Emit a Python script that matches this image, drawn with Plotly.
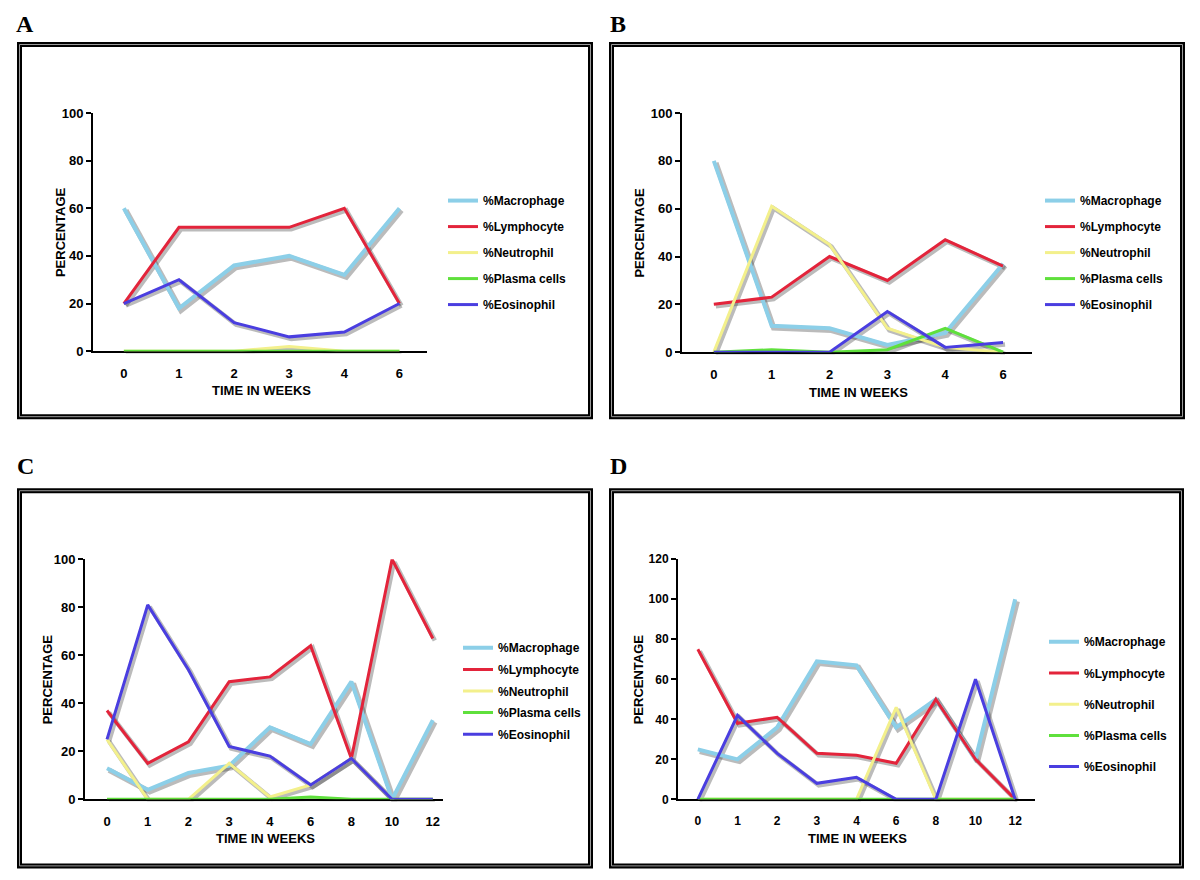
import plotly.graph_objects as go

# categories (time in weeks)
WEEKS_AB = ["0", "1", "2", "3", "4", "6"]
WEEKS_CD = ["0", "1", "2", "3", "4", "6", "8", "10", "12"]

SERIES = ["%Macrophage", "%Lymphocyte", "%Neutrophil", "%Plasma cells", "%Eosinophil"]
COLORS = ["#8ccfe8", "#e3243b", "#f3f08c", "#5fe03c", "#4a3ee0"]
WIDTHS = [4, 3, 3, 3, 3]

# panel A
A_MACRO = [60, 18, 36, 40, 32, 60]
A_LYMPH = [20, 52, 52, 52, 60, 20]
A_NEUT = [0, 0, 0, 2, 0, 0]
A_PLASMA = [0, 0, 0, 0, 0, 0]
A_EOS = [20, 30, 12, 6, 8, 20]

# panel B
B_MACRO = [80, 11, 10, 3, 8, 37]
B_LYMPH = [20, 23, 40, 30, 47, 36]
B_NEUT = [0, 61, 45, 10, 2, 0]
B_PLASMA = [0, 1, 0, 1, 10, 0]
B_EOS = [0, 0, 0, 17, 2, 4]

# panel C
C_MACRO = [13, 4, 11, 14, 30, 23, 49, 0, 33]
C_LYMPH = [37, 15, 24, 49, 51, 64, 17, 100, 67]
C_NEUT = [25, 0, 0, 15, 1, 6, 17, 0, 0]
C_PLASMA = [0, 0, 0, 0, 0, 1, 0, 0, 0]
C_EOS = [25, 81, 54, 22, 18, 6, 17, 0, 0]

# panel D
D_MACRO = [25, 20, 36, 69, 67, 36, 50, 20, 100]
D_LYMPH = [75, 38, 41, 23, 22, 18, 50, 20, 0]
D_NEUT = [0, 0, 0, 0, 0, 46, 0, 0, 0]
D_PLASMA = [0, 0, 0, 0, 0, 0, 0, 0, 0]
D_EOS = [0, 42, 23, 8, 11, 0, 0, 60, 0]

# page placement of the figure as measured from earlier renders
OFF_X = 8
OFF_Y, SCALE_Y = 15, 0.9825
W, H = 1200 - 2 * OFF_X, 880

# pixel boxes (target picture coords) of each plot area: (left, right, top, bottom)
PANELS = [
    dict(label="A", weeks=WEEKS_AB, data=[A_MACRO, A_LYMPH, A_NEUT, A_PLASMA, A_EOS],
         box=(93, 427, 113, 351), xr=[-0.56, 5.5], ymax=100, ytick=13,
         frame=(17, 593, 42, 419), lab=(25, 24),
         leg=(443, 186, 7), ytitle_x=60, xtitle_y=390),
    dict(label="B", weeks=WEEKS_AB, data=[B_MACRO, B_LYMPH, B_NEUT, B_PLASMA, B_EOS],
         box=(682, 1032, 113, 352), xr=[-0.55, 5.5], ymax=100, ytick=13,
         frame=(609, 1185, 42, 419), lab=(618, 24),
         leg=(1040, 186, 7), ytitle_x=640, xtitle_y=392),
    dict(label="C", weeks=WEEKS_CD, data=[C_MACRO, C_LYMPH, C_NEUT, C_PLASMA, C_EOS],
         box=(85, 443, 559, 799), xr=[-0.54, 8.25], ymax=100, ytick=13,
         frame=(17, 593, 488, 868), lab=(25, 466),
         leg=(458, 633, 2.6), ytitle_x=47, xtitle_y=838),
    dict(label="D", weeks=WEEKS_CD, data=[D_MACRO, D_LYMPH, D_NEUT, D_PLASMA, D_EOS],
         box=(678, 1035, 559, 799), xr=[-0.5, 8.5], ymax=120, ytick=12,
         frame=(609, 1184, 488, 868), lab=(618, 466),
         leg=(1044, 627, 12.2), ytitle_x=638, xtitle_y=838),
]

FONT = "Liberation Sans, Arial, sans-serif"

fig = go.Figure()
layout = dict(
    width=W, height=H, autosize=False,
    margin=dict(l=0, r=0, t=0, b=0),
    paper_bgcolor="white", plot_bgcolor="rgba(0,0,0,0)",
    font=dict(family=FONT, color="black"),
    showlegend=True,
)
shapes = []
annotations = []


def px_x(v):
    return (v - OFF_X) / W


def px_y(v):
    return 1 - ((v - OFF_Y) / SCALE_Y) / H


# shadow subplots use axes 1-4, real ones 5-8 so lines sit on top of shadows
for i, p in enumerate(PANELS):
    left, right, top, bottom = p["box"]
    sid = i + 1
    rid = i + 5
    sx = "xaxis" if sid == 1 else f"xaxis{sid}"
    sy = "yaxis" if sid == 1 else f"yaxis{sid}"
    layout[sx] = dict(domain=[px_x(left + 2), px_x(right + 2)], range=p["xr"], type="category",
                      visible=False, anchor=f"y{sid}" if sid > 1 else "y")
    layout[sy] = dict(domain=[px_y(bottom + 2), px_y(top + 2)], range=[0, p["ymax"]],
                      visible=False, anchor=f"x{sid}" if sid > 1 else "x")
    layout[f"xaxis{rid}"] = dict(
        domain=[px_x(left), px_x(right)], range=p["xr"], type="category",
        categoryorder="array", categoryarray=p["weeks"],
        anchor=f"y{rid}", showline=True, linecolor="black", linewidth=2,
        showgrid=False, zeroline=False, ticks="outside", ticklen=9,
        tickcolor="rgba(0,0,0,0)", layer="below traces",
        tickfont=dict(family=FONT, size=p["ytick"], weight="bold", color="black"),
    )
    layout[f"yaxis{rid}"] = dict(
        domain=[px_y(bottom), px_y(top)], range=[0, p["ymax"]], dtick=20,
        anchor=f"x{rid}", showline=True, linecolor="black", linewidth=2,
        showgrid=False, zeroline=False, ticks="outside", ticklen=5, tickwidth=2,
        tickcolor="black", layer="below traces",
        tickfont=dict(family=FONT, size=p["ytick"], weight="bold", color="black"),
    )
    legname = "legend" if i == 0 else f"legend{i + 1}"
    lx, ly, gap = p["leg"]
    layout[legname] = dict(
        x=px_x(lx), y=px_y(ly), xanchor="left", yanchor="top",
        bgcolor="rgba(0,0,0,0)", borderwidth=0, itemwidth=30,
        traceorder="grouped", tracegroupgap=gap,
        font=dict(family=FONT, size=12, weight="bold", color="black"),
    )

    for name, color, width, vals in zip(SERIES, COLORS, WIDTHS, p["data"]):
        fig.add_trace(go.Scatter(
            x=p["weeks"], y=vals, mode="lines",
            line=dict(color="rgba(60,60,60,0.35)", width=width + 1.5),
            xaxis="x" if sid == 1 else f"x{sid}", yaxis="y" if sid == 1 else f"y{sid}",
            showlegend=False, hoverinfo="skip", cliponaxis=False,
        ))
        fig.add_trace(go.Scatter(
            x=p["weeks"], y=vals, mode="lines", name=name,
            line=dict(color=color, width=width),
            xaxis=f"x{rid}", yaxis=f"y{rid}",
            legend=legname, legendgroup=f"{p['label']}{name}",
            cliponaxis=False,
        ))

    # double-line frame around each panel
    fl, fr, ft, fb = p["frame"]
    for lc, lw in (("black", 5), ("#9a9a9a", 1)):
        shapes.append(dict(type="rect", xref="paper", yref="paper",
                           x0=px_x(fl + 2.5), x1=px_x(fr - 2.5),
                           y0=px_y(fb - 2.5), y1=px_y(ft + 2.5),
                           line=dict(color=lc, width=lw)))

    annotations.append(dict(text=p["label"], x=px_x(p["lab"][0]), y=px_y(p["lab"][1]),
                            xref="paper", yref="paper", showarrow=False,
                            xanchor="center", yanchor="middle",
                            font=dict(family="Liberation Serif, Times New Roman, serif",
                                      size=24, weight="bold", color="black")))
    annotations.append(dict(text="PERCENTAGE", x=px_x(p["ytitle_x"]),
                            y=px_y((top + bottom) / 2), xref="paper", yref="paper",
                            showarrow=False, textangle=-90,
                            xanchor="center", yanchor="middle",
                            font=dict(family=FONT, size=13, weight="bold", color="black")))
    annotations.append(dict(text="TIME IN WEEKS", x=px_x((left + right) / 2 + 1),
                            y=px_y(p["xtitle_y"]), xref="paper", yref="paper",
                            showarrow=False, xanchor="center", yanchor="middle",
                            font=dict(family=FONT, size=13, weight="bold", color="black")))

layout["shapes"] = shapes
layout["annotations"] = annotations
fig.update_layout(**layout)

fig.write_html("out.html")
